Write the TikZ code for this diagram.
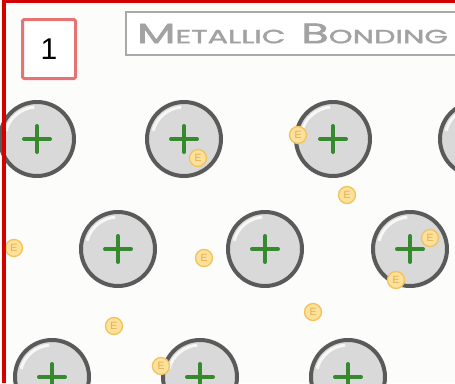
\documentclass[tikz,border=0pt]{standalone}
\usepackage{fontspec}
\usepackage{graphicx}
\setmainfont{Liberation Sans}
\newfontfamily\titlefont[FakeBold=1.6]{Poppins}

\definecolor{framered}{HTML}{D40000}
\definecolor{numred}{HTML}{E57373}
\definecolor{boxgrey}{HTML}{A9A9A9}
\definecolor{titlegrey}{HTML}{A2A2A2}
\definecolor{iongrey}{HTML}{5A5A5A}
\definecolor{ionfill}{HTML}{D9D9D9}
\definecolor{plusgreen}{HTML}{348A2C}
\definecolor{efill}{HTML}{FCE19A}
\definecolor{eborder}{HTML}{F2C25C}
\definecolor{etext}{HTML}{E4AE52}
\definecolor{paper}{HTML}{FCFCFA}

\begin{document}
\begin{tikzpicture}[x=1pt, y=-1pt,
    ion/.style={circle, draw=iongrey, fill=ionfill, line width=4pt, minimum size=74pt, inner sep=0pt,
        path picture={
            \draw[white, opacity=0.8, line width=3pt, shift={(path picture bounding box.center)}] (195:32) arc (195:265:32);
            \draw[plusgreen, line width=4pt, line cap=round, shift={(path picture bounding box.center)}] (-13,0) -- (13,0) (0,-13) -- (0,13);
        }},
    electron/.style={circle, draw=eborder, fill=efill, line width=1.3pt, minimum size=17pt, inner sep=0pt, text=etext, font=\fontsize{10.5}{10.5}\selectfont}]
    \useasboundingbox (0,0) rectangle (455,383);
    \clip (0,0) rectangle (455,383);
    \fill[paper] (0,0) rectangle (455,383);

    % Ions, row by row
    \node[ion] (ion11) at (37,139) {};
    \node[ion] (ion12) at (184,139) {};
    \node[ion] (ion13) at (333,139) {};
    \node[ion] (ion14) at (477,139) {};

    \node[ion] (ion21) at (118,249) {};
    \node[ion] (ion22) at (265,249) {};
    \node[ion] (ion23) at (410,249) {};

    \node[ion] (ion31) at (52,377) {};
    \node[ion] (ion32) at (200,377) {};
    \node[ion] (ion33) at (348,377) {};
    \node[ion] (ion34) at (496,377) {};

    % Free electrons
    \node[electron] (e1) at (198,158) {E};
    \node[electron] (e2) at (298,135) {E};
    \node[electron] (e3) at (347,195) {E};
    \node[electron] (e4) at (430,238) {E};
    \node[electron] (e5) at (14,248) {E};
    \node[electron] (e6) at (204,258) {E};
    \node[electron] (e7) at (396,280) {E};
    \node[electron] (e8) at (313,312) {E};
    \node[electron] (e9) at (114,326) {E};
    \node[electron] (e10) at (161,366) {E};

    % Header
    \node[draw=boxgrey, line width=2pt, fill=white, anchor=west, minimum height=43pt, text width=330pt, inner xsep=11pt, align=left, text=titlegrey, font=\titlefont] (title) at (125,33.5)
        {\scalebox{1.6}[1]{{\fontsize{28}{28}\selectfont M}{\fontsize{19}{19}\selectfont ETALLIC}\hspace{10pt}{\fontsize{28}{28}\selectfont B}{\fontsize{19}{19}\selectfont ONDING}}};
    \node[draw=numred, line width=3pt, fill=white, rounded corners=1.5pt, minimum width=53pt, minimum height=59pt, font=\fontsize{30}{30}\selectfont] (num) at (49,49) {1};

    % Frame
    \draw[framered, line width=3.5pt] (4,383) -- (4,1.5) -- (455,1.5);
\end{tikzpicture}
\end{document}
